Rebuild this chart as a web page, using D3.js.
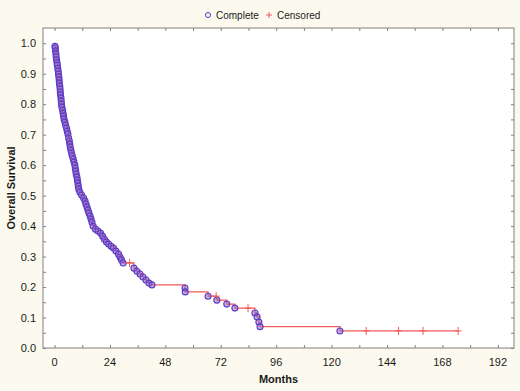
<!DOCTYPE html>
<html>
<head>
<meta charset="utf-8">
<script src="https://cdn.jsdelivr.net/npm/d3@7/dist/d3.min.js"></script>
<style>
  body { margin: 0; background: #fcfaee; }
  text { font-family: "Liberation Sans", Arial, sans-serif; }
</style>
</head>
<body>
<script>

  // Kaplan-Meier steps: month of each death and survival after it
  const eventMonths = [0.2, 0.3, 0.4, 0.6, 0.7, 0.9, 1.1, 1.2, 1.4, 1.6,
                       1.7, 1.9, 2.0, 2.1, 2.3, 2.4, 2.5, 2.6, 2.8, 2.9,
                       3.0, 3.2, 3.5, 3.7, 3.9, 4.1, 4.5, 4.8, 5.2, 5.5,
                       5.8, 6.1, 6.4, 6.6, 6.8, 7.1, 7.4, 7.7, 8.1, 8.4,
                       8.8, 9.0, 9.2, 9.4, 9.7, 9.9, 10.1, 10.3, 10.5, 11.0,
                       11.7, 12.6, 13.2, 13.6, 14.1, 14.5, 14.9, 15.4, 15.8, 16.2,
                       16.7, 17.7, 18.8, 19.9, 20.8, 21.6, 22.5, 23.4, 24.5, 25.5,
                       26.6, 27.7, 28.4, 29.0, 29.7, 34.4, 35.7, 37.0, 38.3, 39.6,
                       40.9, 42.2, 56.5, 56.6, 66.5, 70.3, 74.6, 78.1, 86.8, 87.7,
                       88.5, 89.0, 123.6]
  const eventSurv = [0.990, 0.985, 0.975, 0.965, 0.955, 0.945, 0.935, 0.928, 0.918, 0.908,
                     0.898, 0.889, 0.879, 0.869, 0.859, 0.849, 0.839, 0.830, 0.820, 0.810,
                     0.800, 0.790, 0.780, 0.770, 0.761, 0.751, 0.741, 0.731, 0.721, 0.711,
                     0.702, 0.689, 0.679, 0.669, 0.659, 0.649, 0.639, 0.630, 0.620, 0.610,
                     0.600, 0.590, 0.580, 0.570, 0.561, 0.551, 0.541, 0.531, 0.521, 0.511,
                     0.502, 0.492, 0.482, 0.472, 0.462, 0.452, 0.443, 0.433, 0.423, 0.413,
                     0.400, 0.390, 0.384, 0.377, 0.367, 0.357, 0.348, 0.341, 0.334, 0.328,
                     0.318, 0.308, 0.298, 0.289, 0.279, 0.262, 0.252, 0.243, 0.233, 0.223,
                     0.213, 0.207, 0.197, 0.184, 0.170, 0.157, 0.144, 0.131, 0.115, 0.102,
                     0.085, 0.070, 0.056]

  const censorMonths = [32.5, 70.0, 83.8, 135.0, 149.0, 159.6, 174.8]
  const censorSurv = [0.279, 0.170, 0.131, 0.056, 0.056, 0.056, 0.056]

  const xTicks = [0, 24, 48, 72, 96, 120, 144, 168, 192]
  const yTicks = [0.0, 0.1, 0.2, 0.3, 0.4, 0.5, 0.6, 0.7, 0.8, 0.9, 1.0]

  const W = 520, H = 391
  const plot = {left: 43, right: 514, top: 28, bottom: 348}
  const colors = {line: '#f25a5a', circle: '#5a3cc8', legendCircle: '#4a40d0', frame: '#808080', text: '#1a1a1a'}

  const x = d3.scaleLinear().domain([-5, 199]).range([plot.left, plot.right])
  const y = d3.scaleLinear().domain([0, 1.05]).range([plot.bottom, plot.top])

  const svg = d3.select('body').append('svg')
      .attr('width', W)
      .attr('height', H)

  svg.append('rect')
      .attr('width', W).attr('height', H)
      .style('fill', '#fcfaee')

  svg.append('rect')
      .attr('x', plot.left).attr('y', plot.top)
      .attr('width', plot.right - plot.left)
      .attr('height', plot.bottom - plot.top)
      .style('fill', '#ffffff')

  // ticks on all four sides, pointing inward
  const minorX = d3.range(0, 199, 12)
  const minorY = d3.range(0, 1.05, 0.05)

  const gAxes = svg.append('g')
  gAxes.append('g')
      .attr('transform', `translate(0, ${plot.bottom})`)
      .call(d3.axisBottom(x).tickValues(minorX).tickSize(-3).tickFormat(''))
  gAxes.append('g')
      .attr('transform', `translate(0, ${plot.top})`)
      .call(d3.axisTop(x).tickValues(minorX).tickSize(-3).tickFormat(''))
  gAxes.append('g')
      .attr('transform', `translate(${plot.left}, 0)`)
      .call(d3.axisLeft(y).tickValues(minorY).tickSize(-3).tickFormat(''))
  gAxes.append('g')
      .attr('transform', `translate(${plot.right}, 0)`)
      .call(d3.axisRight(y).tickValues(minorY).tickSize(-3).tickFormat(''))
  gAxes.selectAll('.domain').remove()
  gAxes.selectAll('line').style('stroke', colors.frame)

  svg.append('rect')
      .attr('x', plot.left).attr('y', plot.top)
      .attr('width', plot.right - plot.left)
      .attr('height', plot.bottom - plot.top)
      .style('fill', 'none')
      .style('stroke', colors.frame)
      .style('stroke-width', 1)

  // tick labels
  svg.append('g').selectAll('text')
      .data(xTicks)
      .enter().append('text')
        .attr('x', d => x(d))
        .attr('y', 366)
        .style('text-anchor', 'middle')
        .style('font-size', '11px')
        .style('fill', colors.text)
        .text(d => d)

  svg.append('g').selectAll('text')
      .data(yTicks)
      .enter().append('text')
        .attr('x', 36)
        .attr('y', d => y(d) + 4)
        .style('text-anchor', 'end')
        .style('font-size', '11px')
        .style('fill', colors.text)
        .text(d => d.toFixed(1))

  svg.append('text')
      .attr('x', (plot.left + plot.right) / 2)
      .attr('y', 383)
      .style('text-anchor', 'middle')
      .style('font-size', '11px')
      .style('font-weight', 'bold')
      .style('fill', colors.text)
      .text('Months')

  svg.append('text')
      .attr('transform', `translate(15, ${(plot.top + plot.bottom) / 2}) rotate(-90)`)
      .style('text-anchor', 'middle')
      .style('font-size', '11px')
      .style('font-weight', 'bold')
      .style('fill', colors.text)
      .text('Overall Survival')

  // survival step line
  const steps = [[0, 1]]
  eventMonths.forEach((m, i) => steps.push([m, eventSurv[i]]))
  steps.push([d3.max(censorMonths), eventSurv[eventSurv.length - 1]])

  const line = d3.line()
      .x(d => x(d[0]))
      .y(d => y(d[1]))
      .curve(d3.curveStepAfter)

  const g = svg.append('g')
  g.append('path')
      .datum(steps)
      .attr('d', line)
      .style('fill', 'none')
      .style('stroke', colors.line)
      .style('stroke-width', 1.2)

  // complete (death) markers
  g.selectAll('.complete')
      .data(eventMonths.map((m, i) => ({m: m, s: eventSurv[i]})))
      .enter().append('circle')
        .attr('class', 'complete')
        .attr('cx', d => x(d.m))
        .attr('cy', d => y(d.s))
        .attr('r', 3)
        .style('fill', 'rgba(150,95,190,0.5)')
        .style('stroke', colors.circle)
        .style('stroke-width', 1.1)

  // censored markers
  g.selectAll('.censored')
      .data(censorMonths.map((m, i) => ({m: m, s: censorSurv[i]})))
      .enter().append('path')
        .attr('class', 'censored')
        .attr('d', d => `M${x(d.m) - 3.5},${y(d.s)}h7M${x(d.m)},${y(d.s) - 4}v8`)
        .style('stroke', colors.line)
        .style('stroke-width', 1)
        .style('fill', 'none')

  // legend
  const leg = svg.append('g')
  leg.append('circle')
      .attr('cx', 208).attr('cy', 15).attr('r', 2.5)
      .style('fill', 'none')
      .style('stroke', colors.legendCircle)
      .style('stroke-width', 1)
  leg.append('text')
      .attr('x', 216).attr('y', 18.5)
      .style('font-size', '10px')
      .style('fill', colors.text)
      .text('Complete')
  leg.append('path')
      .attr('d', 'M266,15h6M269,12v6')
      .style('stroke', colors.line)
      .style('stroke-width', 1)
  leg.append('text')
      .attr('x', 277).attr('y', 18.5)
      .style('font-size', '10px')
      .style('fill', colors.text)
      .text('Censored')

</script>
</body>
</html>
